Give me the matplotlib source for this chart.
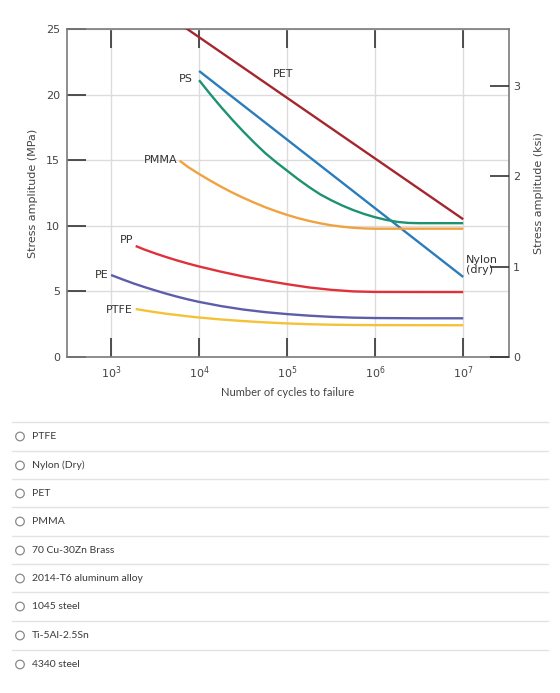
import numpy as np
import matplotlib
matplotlib.use("Agg")
import matplotlib.pyplot as plt
from matplotlib.patches import Circle

# ---------------- data (log10 cycles, MPa) ----------------
pet_logN = [3.80, 7.0]
pet_mpa = [25.3, 10.5]

nylon_logN = [4.0, 7.0]
nylon_mpa = [21.8, 6.1]

ps_logN = [4.0, 4.125, 4.25, 4.375, 4.5, 4.625, 4.75, 4.875, 5.0, 5.125, 5.25,
           5.375, 5.5, 5.625, 5.75, 5.875, 6.0, 6.125, 6.25, 6.375, 6.5, 7.0]
ps_mpa = [21.1, 20.05, 19.05, 18.1, 17.2, 16.35, 15.55, 14.85, 14.2, 13.55, 12.95,
          12.4, 11.95, 11.55, 11.2, 10.9, 10.65, 10.45, 10.3, 10.22, 10.2, 10.2]

pmma_logN = [3.78, 3.875, 4.0, 4.125, 4.25, 4.375, 4.5, 4.625, 4.75, 4.875, 5.0,
             5.125, 5.25, 5.375, 5.5, 5.625, 5.75, 5.875, 6.0, 7.0]
pmma_mpa = [14.96, 14.48, 13.95, 13.45, 12.98, 12.54, 12.14, 11.77, 11.42, 11.11, 10.83,
            10.58, 10.37, 10.19, 10.04, 9.93, 9.85, 9.8, 9.78, 9.78]

pp_logN = [3.28, 3.375, 3.5, 3.625, 3.75, 3.875, 4.0, 4.25, 4.5, 4.75, 5.0,
           5.25, 5.5, 5.75, 6.0, 7.0]
pp_mpa = [8.46, 8.2, 7.9, 7.62, 7.36, 7.12, 6.9, 6.5, 6.14, 5.83, 5.55,
          5.3, 5.12, 5.0, 4.96, 4.95]

pe_logN = [3.0, 3.125, 3.25, 3.375, 3.5, 3.625, 3.75, 3.875, 4.0, 4.25, 4.5,
           4.75, 5.0, 5.25, 5.5, 5.75, 6.0, 6.5, 7.0]
pe_mpa = [6.25, 5.93, 5.62, 5.34, 5.08, 4.83, 4.6, 4.39, 4.2, 3.88, 3.62,
          3.42, 3.27, 3.15, 3.06, 3.0, 2.97, 2.95, 2.95]

ptfe_logN = [3.28, 3.375, 3.5, 3.625, 3.75, 3.875, 4.0, 4.25, 4.5, 4.75, 5.0,
             5.25, 5.5, 5.75, 6.0, 7.0]
ptfe_mpa = [3.66, 3.55, 3.42, 3.3, 3.2, 3.1, 3.01, 2.86, 2.74, 2.64, 2.56,
            2.5, 2.46, 2.44, 2.43, 2.42]

x_ticks_log = [3, 4, 5, 6, 7]
x_tick_labels = ["10$^3$", "10$^4$", "10$^5$", "10$^6$", "10$^7$"]
y_ticks_mpa = [0, 5, 10, 15, 20, 25]
y_ticks_ksi = [0, 1, 2, 3]

options = ["PTFE", "Nylon (Dry)", "PET", "PMMA", "70 Cu-30Zn Brass",
           "2014-T6 aluminum alloy", "1045 steel", "Ti-5Al-2.5Sn", "4340 steel"]

# ---------------- figure ----------------
W, H = 560, 693
fig = plt.figure(figsize=(W / 100, H / 100), dpi=100)
fig.patch.set_facecolor("white")

L, R, T, B = 67, 509, 29, 357
ax = fig.add_axes([L / W, 1 - B / H, (R - L) / W, (B - T) / H])
ax.set_xscale("log")
ax.set_xlim(10 ** 2.5, 10 ** 7.52)
ax.set_ylim(0, 25)

spine_c = "#7a7a7a"
txt_c = "#444444"
for s in ax.spines.values():
    s.set_color(spine_c)
    s.set_linewidth(1.2)

ax.set_xticks([10 ** v for v in x_ticks_log])
ax.set_xticklabels(x_tick_labels)
ax.xaxis.set_minor_locator(matplotlib.ticker.NullLocator())
ax.set_yticks(y_ticks_mpa)
ax.tick_params(axis="both", which="major", direction="in", length=14,
               width=1.2, color="#333333", labelsize=8, labelcolor=txt_c,
               top=True, pad=5)
ax.grid(True, color="#dcdcdc", linewidth=1.0, zorder=0)
ax.set_axisbelow(True)

ax.set_xlabel("Number of cycles to failure", fontsize=8, color=txt_c,
              labelpad=5, family="Lato")
ax.set_ylabel("Stress amplitude (MPa)", fontsize=8, color=txt_c,
              labelpad=6)

lw = 1.7
def P(logN, vals, color):
    ax.plot([10 ** v for v in logN], vals, color=color, lw=lw,
            solid_capstyle="butt", solid_joinstyle="round", zorder=3)

P(pet_logN, pet_mpa, "#a4262f")
P(nylon_logN, nylon_mpa, "#2a7cba")
P(ps_logN, ps_mpa, "#1e9171")
P(pmma_logN, pmma_mpa, "#f0a23e")
P(pp_logN, pp_mpa, "#e0313b")
P(pe_logN, pe_mpa, "#5d5ea9")
P(ptfe_logN, ptfe_mpa, "#f5c137")

lab = dict(fontsize=8, color="#333333")
ax.text(10 ** 3.93, 21.2, "PS", ha="right", va="center", **lab)
ax.text(10 ** 4.95, 21.6, "PET", ha="center", va="center", **lab)
ax.text(10 ** 3.76, 15.0, "PMMA", ha="right", va="center", **lab)
ax.text(10 ** 3.25, 8.9, "PP", ha="right", va="center", **lab)
ax.text(10 ** 2.97, 6.25, "PE", ha="right", va="center", **lab)
ax.text(10 ** 3.25, 3.6, "PTFE", ha="right", va="center", **lab)
ax.text(10 ** 7.03, 7.05, "Nylon\n(dry)", ha="left", va="center",
        linespacing=1.0, **lab)

ax2 = ax.twinx()
ax2.set_ylim(0, 25 / 6.895)
ax2.set_yticks(y_ticks_ksi)
ax2.tick_params(axis="y", direction="in", length=14, width=1.2,
                color="#333333", labelsize=8, labelcolor=txt_c, pad=3)
for s in ax2.spines.values():
    s.set_visible(False)
ax2.set_ylabel("Stress amplitude (ksi)", fontsize=8, color=txt_c,
               labelpad=10)

# ---------------- radio list ----------------
ov = fig.add_axes([0, 0, 1, 1], zorder=-1)
ov.set_xlim(0, W)
ov.set_ylim(H, 0)
ov.axis("off")
line_y = [422, 451, 479, 507, 536, 564, 592, 621, 650]
for i, name in enumerate(options):
    ov.plot([12, 548], [line_y[i], line_y[i]], color="#e3e3e3", lw=1.0)
    cy = line_y[i] + 14.5
    ov.add_patch(Circle((20, cy), 4.3, fill=False, ec="#8a8a8a", lw=0.9))
    ov.text(32, cy, name, ha="left", va="center", fontsize=7.5,
            color="#3a3a3a", family="Lato")

fig.savefig("out.png", dpi=100, facecolor="white")
